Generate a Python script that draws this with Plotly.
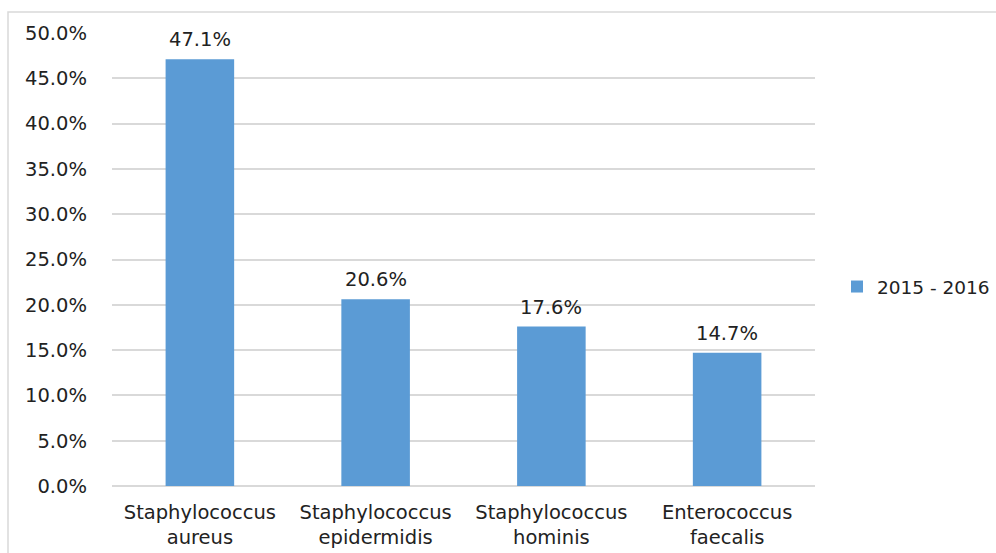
import plotly.graph_objects as go

categories = ["Staphylococcus<br>aureus", "Staphylococcus<br>epidermidis",
              "Staphylococcus<br>hominis", "Enterococcus<br>faecalis"]
values = [47.1, 20.6, 17.6, 14.7]
series_name = "2015 - 2016"
y_ticks = [0, 5, 10, 15, 20, 25, 30, 35, 40, 45, 50]
y_tick_labels = [f"{v:.1f}%" for v in y_ticks]

W, H = 996, 553
L, R, T, B = 112, 181, 33, 67
pw, ph = W - L - R, H - T - B

FONT = "DejaVu Sans"
TXT = "#222222"
GRID = "#d9d9d9"
BAR = "#5B9BD5"
FS = 19.5

fig = go.Figure()
fig.add_trace(go.Bar(
    x=categories, y=values, name=series_name,
    marker=dict(color=BAR, line=dict(width=0)),
    showlegend=True,
))

annotations = [
    dict(x=c, y=v, xref="x", yref="y", text=f"{v:.1f}%", showarrow=False,
         yanchor="bottom", yshift=6, font=dict(family=FONT, size=FS, color=TXT))
    for c, v in zip(categories, values)
]

fig.update_layout(
    width=W, height=H,
    margin=dict(l=L, r=R, t=T, b=B, pad=0, autoexpand=False),
    paper_bgcolor="white", plot_bgcolor="white",
    bargap=0.61,
    font=dict(family=FONT, size=FS, color=TXT),
    annotations=annotations,
    legend=dict(x=837 / W, y=1 - 287 / H, xref="container", yref="container",
                xanchor="left", yanchor="middle",
                font=dict(family=FONT, size=18.5, color=TXT),
                bgcolor="rgba(0,0,0,0)"),
    shapes=[dict(type="rect", xref="paper", yref="paper",
                 x0=(8 - L) / pw, x1=(W + 20 - L) / pw,
                 y0=-(H + 20 - (T + ph)) / ph, y1=(T + ph - 12) / ph,
                 line=dict(color=GRID, width=1.5), fillcolor="rgba(0,0,0,0)",
                 layer="below")],
    xaxis=dict(showgrid=False, showline=False, ticks="", zeroline=False,
               ticklabelstandoff=12, automargin=False,
               tickfont=dict(family=FONT, size=FS, color=TXT)),
    yaxis=dict(range=[0, 50], tickvals=y_ticks, ticktext=y_tick_labels,
               showgrid=True, gridcolor=GRID, gridwidth=1.5,
               zeroline=True, zerolinecolor=GRID, zerolinewidth=1.5,
               showline=False, ticks="", ticklabelstandoff=24, automargin=False,
               tickfont=dict(family=FONT, size=FS, color=TXT)),
)

fig.write_html("out.html")
